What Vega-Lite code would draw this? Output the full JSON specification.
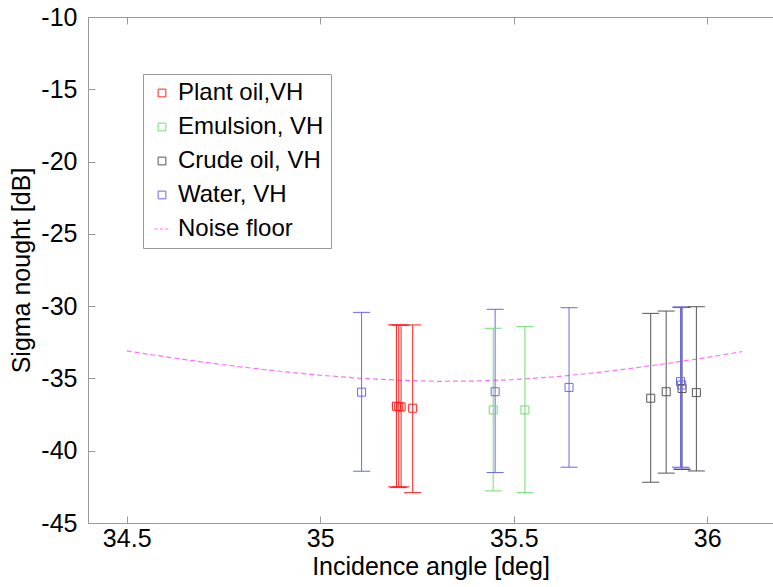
{
  "$schema": "https://vega.github.io/schema/vega-lite/v6.json",
  "autosize": {"type": "none"},
  "padding": {"left": 88, "top": 17, "right": 0, "bottom": 64},
  "width": 685,
  "height": 506,
  "background": "white",
  "config": {
    "view": {"stroke": null},
    "font": "Liberation Sans",
    "axis": {"labelFont": "Liberation Sans", "titleFont": "Liberation Sans", "labelFontSize": 25, "titleFontSize": 25, "titleFontWeight": "normal", "labelColor": "black", "titleColor": "black", "domainColor": "#999999", "tickColor": "#999999", "grid": false}
  },
  "datasets": {
    "obs": [
      {"series": "Water, VH", "x": 35.107, "y": -35.95, "lo": -41.42, "hi": -30.43},
      {"series": "Plant oil,VH", "x": 35.197, "y": -36.92, "lo": -42.5, "hi": -31.3},
      {"series": "Plant oil,VH", "x": 35.203, "y": -36.95, "lo": -42.55, "hi": -31.3},
      {"series": "Plant oil,VH", "x": 35.209, "y": -36.97, "lo": -42.5, "hi": -31.32},
      {"series": "Plant oil,VH", "x": 35.239, "y": -37.06, "lo": -42.9, "hi": -31.3},
      {"series": "Emulsion, VH", "x": 35.447, "y": -37.18, "lo": -42.78, "hi": -31.53},
      {"series": "Water, VH", "x": 35.452, "y": -35.92, "lo": -41.51, "hi": -30.22},
      {"series": "Emulsion, VH", "x": 35.529, "y": -37.18, "lo": -42.9, "hi": -31.42},
      {"series": "Water, VH", "x": 35.643, "y": -35.62, "lo": -41.14, "hi": -30.11},
      {"series": "Crude oil, VH", "x": 35.854, "y": -36.37, "lo": -42.18, "hi": -30.5},
      {"series": "Crude oil, VH", "x": 35.894, "y": -35.92, "lo": -41.55, "hi": -30.34},
      {"series": "Crude oil, VH", "x": 35.935, "y": -35.7, "lo": -41.3, "hi": -30.1},
      {"series": "Water, VH", "x": 35.931, "y": -35.22, "lo": -41.14, "hi": -30.08},
      {"series": "Water, VH", "x": 35.934, "y": -35.45, "lo": -41.2, "hi": -30.05},
      {"series": "Crude oil, VH", "x": 35.972, "y": -35.98, "lo": -41.4, "hi": -30.04}
    ],
    "noise": [
      {"series": "Noise floor", "x": 34.5, "y": -33.1},
      {"series": "Noise floor", "x": 34.6, "y": -33.5},
      {"series": "Noise floor", "x": 34.7, "y": -33.88},
      {"series": "Noise floor", "x": 34.8, "y": -34.22},
      {"series": "Noise floor", "x": 34.9, "y": -34.52},
      {"series": "Noise floor", "x": 35.0, "y": -34.78},
      {"series": "Noise floor", "x": 35.1, "y": -34.98},
      {"series": "Noise floor", "x": 35.2, "y": -35.12},
      {"series": "Noise floor", "x": 35.3, "y": -35.2},
      {"series": "Noise floor", "x": 35.4, "y": -35.18},
      {"series": "Noise floor", "x": 35.5, "y": -35.08},
      {"series": "Noise floor", "x": 35.6, "y": -34.9},
      {"series": "Noise floor", "x": 35.7, "y": -34.64},
      {"series": "Noise floor", "x": 35.8, "y": -34.32},
      {"series": "Noise floor", "x": 35.9, "y": -33.95},
      {"series": "Noise floor", "x": 36.0, "y": -33.55},
      {"series": "Noise floor", "x": 36.09, "y": -33.15}
    ]
  },
  "resolve": {"axis": {"x": "independent"}},
  "layer": [
    {
      "data": {"name": "noise"},
      "mark": {"type": "line", "strokeDash": [5, 3], "strokeWidth": 1.2, "clip": true},
      "encoding": {
        "x": {"field": "x", "type": "quantitative", "scale": {"domain": [34.4, 36.17], "nice": false, "zero": false},
          "axis": {"title": "Incidence angle [deg]", "values": [34.5, 35, 35.5, 36], "labelExpr": "datum.value + ''", "tickSize": -7, "labelPadding": 10, "titlePadding": 3, "labelFlush": false}},
        "y": {"field": "y", "type": "quantitative", "scale": {"domain": [-45, -10], "nice": false, "zero": false},
          "axis": {"title": "Sigma nought [dB]", "values": [-45, -40, -35, -30, -25, -20, -15, -10], "labelExpr": "datum.value + ''", "tickSize": -7, "labelPadding": 18, "titlePadding": 6}},
        "color": {"field": "series", "type": "nominal",
          "scale": {"domain": ["Plant oil,VH", "Emulsion, VH", "Crude oil, VH", "Water, VH", "Noise floor"], "range": ["#ff2020", "#70dd70", "#555555", "#6a6ae6", "#ff70ff"]},
          "legend": {"title": null, "orient": "none", "legendX": 55, "legendY": 57, "labelFontSize": 24, "labelFont": "Liberation Sans", "labelColor": "black", "symbolSize": 60, "symbolStrokeWidth": 1, "strokeColor": "#999999", "fillColor": "white", "padding": 7, "rowPadding": 10, "labelOffset": 4}}
      }
    },
    {
      "data": {"name": "obs"},
      "mark": {"type": "rule", "strokeWidth": 1},
      "encoding": {
        "x": {"field": "x", "type": "quantitative", "axis": {"orient": "top", "labels": false, "title": null, "values": [34.5, 35, 35.5, 36], "tickSize": -7}},
        "y": {"field": "lo", "type": "quantitative"},
        "y2": {"field": "hi"},
        "color": {"field": "series", "type": "nominal"}
      }
    },
    {
      "data": {"name": "obs"},
      "mark": {"type": "rule", "strokeWidth": 1, "xOffset": -8.5, "x2Offset": 8.5},
      "encoding": {
        "x": {"field": "x", "type": "quantitative", "axis": null},
        "x2": {"field": "x"},
        "y": {"field": "lo", "type": "quantitative"},
        "color": {"field": "series", "type": "nominal"}
      }
    },
    {
      "data": {"name": "obs"},
      "mark": {"type": "rule", "strokeWidth": 1, "xOffset": -8.5, "x2Offset": 8.5},
      "encoding": {
        "x": {"field": "x", "type": "quantitative", "axis": null},
        "x2": {"field": "x"},
        "y": {"field": "hi", "type": "quantitative"},
        "color": {"field": "series", "type": "nominal"}
      }
    },
    {
      "data": {"name": "obs"},
      "mark": {"type": "point", "filled": false, "strokeWidth": 1, "size": 64, "opacity": 1},
      "encoding": {
        "x": {"field": "x", "type": "quantitative", "axis": null},
        "y": {"field": "y", "type": "quantitative"},
        "color": {"field": "series", "type": "nominal"},
        "shape": {"field": "series", "type": "nominal",
          "scale": {"domain": ["Plant oil,VH", "Emulsion, VH", "Crude oil, VH", "Water, VH", "Noise floor"], "range": ["square", "square", "square", "square", "M-2,0H-1.1M-0.6,0H0.3M0.8,0H1.7"]},
          "legend": {"title": null}}
      }
    }
  ]
}
